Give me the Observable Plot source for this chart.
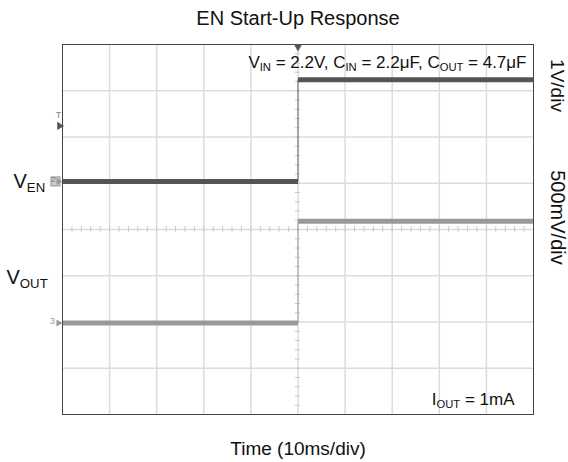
<!DOCTYPE html>
<html><head><meta charset="utf-8">
<script src="https://cdn.jsdelivr.net/npm/d3@7"></script>
<script src="https://cdn.jsdelivr.net/npm/@observablehq/plot@0.6"></script>
<style>body{margin:0;background:#fff} svg{display:block}</style>
</head><body><div id="chart"></div>
<script>
// ---- data ----
const title = "EN Start-Up Response";
const xLabel = "Time (10ms/div)";
const timeMs = [0, 50, 50, 100];          // time of each trace vertex (ms)
const venV  = [0, 0, 2.2, 2.2];           // EN voltage (V)
const voutV = [0, 0, 1.1, 1.1];           // output voltage (V)
const xDivs = [0, 10, 20, 30, 40, 50, 60, 70, 80, 90, 100];
const yDivs = [0, 1, 2, 3, 4, 5, 6, 7, 8];
const chNames = ["V_{EN}", "V_{OUT}"];
const chMarks = ["2", "3"];
const scaleLabels = ["1V/div", "500mV/div"];
const conditions = "V_{IN} = 2.2V, C_{IN} = 2.2μF, C_{OUT} = 4.7μF";
const loadNote = "I_{OUT} = 1mA";
const trigLevelV = 1.2;

// scope channel settings (ground offset in divisions, volts per division)
const chEN  = {offset: 5.04, vPerDiv: 1,   color: "#555555", edge: "#7a7a7a"};
const chOUT = {offset: 1.98, vPerDiv: 0.5, color: "#999999", edge: "#a8a8a8"};

function segments(vals, ch) {
  const out = [];
  for (let i = 0; i < timeMs.length - 1; i++) {
    out.push({
      t1: timeMs[i], t2: timeMs[i + 1],
      y1: ch.offset + vals[i] / ch.vPerDiv,
      y2: ch.offset + vals[i + 1] / ch.vPerDiv,
      flat: vals[i] === vals[i + 1]
    });
  }
  return out;
}
const segEN = segments(venV, chEN);
const segOUT = segments(voutV, chOUT);
const trigTime = timeMs.find((t, i) => i > 0 && venV[i] !== venV[i - 1]);
const midX = (xDivs[0] + xDivs[xDivs.length - 1]) / 2;
const midY = (yDivs[0] + yDivs[yDivs.length - 1]) / 2;
const minorX = d3.range(xDivs[0], xDivs[xDivs.length - 1], 2).slice(1);
const minorY = d3.range(yDivs[0], yDivs[yDivs.length - 1], 0.2).slice(1);

const grid = "#dcdcdc";
const font = "Liberation Sans, Arial, Helvetica, sans-serif";

function trace(seg, ch) {
  return [
    Plot.link(seg.filter(d => !d.flat), {x1: "t1", x2: "t2", y1: "y1", y2: "y2", stroke: ch.edge, strokeWidth: 1.2}),
    Plot.link(seg.filter(d => d.flat), {x1: "t1", x2: "t2", y1: "y1", y2: "y2", stroke: ch.color, strokeWidth: 5})
  ];
}

const chart = Plot.plot({
  width: 568, height: 462,
  marginTop: 44, marginLeft: 62, marginRight: 35, marginBottom: 48,
  x: {domain: [xDivs[0], xDivs[xDivs.length - 1]], axis: null},
  y: {domain: [yDivs[0], yDivs[yDivs.length - 1]], axis: null},
  style: {fontFamily: font, background: "#fff", overflow: "visible"},
  marks: [
    Plot.ruleX(xDivs.slice(1, -1), {stroke: grid, strokeWidth: 1.5}),
    Plot.ruleY(yDivs.slice(1, -1), {stroke: grid, strokeWidth: 1.5}),
    Plot.ruleX(minorX, {x: d => d, y1: midY - 0.06, y2: midY + 0.06, stroke: "#c8c8c8"}),
    Plot.ruleY(minorY, {y: d => d, x1: midX - 0.55, x2: midX + 0.55, stroke: "#c8c8c8"}),
    ...trace(segOUT, chOUT),
    ...trace(segEN, chEN),
    Plot.frame({stroke: "#444"}),
    // trigger position marker (top)
    Plot.dot([trigTime], {x: d => d, frameAnchor: "top", dy: 2, symbol: "triangle", r: 3.2, rotate: 180, fill: "#555", stroke: "none"}),
    // trigger level marker (left)
    Plot.dot([trigLevelV], {x: xDivs[0], y: d => chEN.offset + d / chEN.vPerDiv, dx: -3, symbol: "triangle", r: 3, rotate: 90, fill: "#555", stroke: "none"}),
    Plot.text(["T"], {x: xDivs[0], y: chEN.offset + trigLevelV / chEN.vPerDiv, dx: -4, dy: -11, fontSize: 9, fill: "#888"}),
    // channel ground markers
    Plot.dot([chEN.offset], {x: xDivs[0], y: d => d, dx: -7, symbol: "square", r: 5, fill: "#cccccc", stroke: "#aaa"}),
    Plot.text([chMarks[0]], {x: xDivs[0], y: chEN.offset, dx: -9, dy: -2, fontSize: 8, fill: "#777"}),
    Plot.text([chMarks[1]], {x: xDivs[0], y: chOUT.offset, dx: -10, dy: -2, fontSize: 9, fill: "#999"}),
    Plot.dot([chEN.offset, chOUT.offset], {x: xDivs[0], y: d => d, dx: -4, symbol: "triangle", r: 2.6, rotate: 90, fill: "#999", stroke: "none"}),
    // texts
    Plot.text([title], {frameAnchor: "top", lineAnchor: "bottom", dy: -20, fontSize: 20, fill: "#111"}),
    Plot.text([xLabel], {frameAnchor: "bottom", lineAnchor: "bottom", dy: 40, fontSize: 19, fill: "#111"}),
    Plot.text([scaleLabels[0]], {frameAnchor: "top-right", dx: 24, dy: 41, rotate: 90, textAnchor: "middle", lineAnchor: "middle", fontSize: 19, fill: "#111"}),
    Plot.text([scaleLabels[1]], {frameAnchor: "right", dx: 24, dy: -12, rotate: 90, textAnchor: "middle", lineAnchor: "middle", fontSize: 20, fill: "#111"}),
    Plot.text([conditions], {frameAnchor: "top-right", textAnchor: "end", lineAnchor: "bottom", dx: -7, dy: 23, fontSize: 17, fill: "#111"}),
    Plot.text([loadNote], {frameAnchor: "bottom-right", textAnchor: "end", lineAnchor: "bottom", dx: -19, dy: -10, fontSize: 17, fill: "#111"}),
    Plot.text([chNames[0]], {frameAnchor: "left", textAnchor: "start", lineAnchor: "bottom", dx: -49, dy: -42, fontSize: 20, fill: "#111"}),
    Plot.text([chNames[1]], {frameAnchor: "left", textAnchor: "start", lineAnchor: "bottom", dx: -56, dy: 54, fontSize: 20, fill: "#111"})
  ]
});

// render "_{...}" as subscripts
d3.select(chart).selectAll("text").each(function () {
  const el = d3.select(this);
  const src = el.text();
  if (!src.includes("_{")) return;
  const fs = parseFloat(d3.select(this.parentNode).attr("font-size")) || 16;
  el.text(null);
  const parts = src.split(/(_\{[^}]*\})/);
  let sub = false;
  for (const p of parts) {
    if (!p) continue;
    if (p.startsWith("_{")) {
      el.append("tspan").attr("font-size", (fs * 0.66).toFixed(1)).attr("dy", (fs * 0.2).toFixed(1)).text(p.slice(2, -1));
      sub = true;
    } else {
      const t = el.append("tspan").text(p);
      if (sub) t.attr("dy", (-fs * 0.2).toFixed(1));
      sub = false;
    }
  }
});

document.getElementById("chart").append(chart);
</script>
</body></html>
